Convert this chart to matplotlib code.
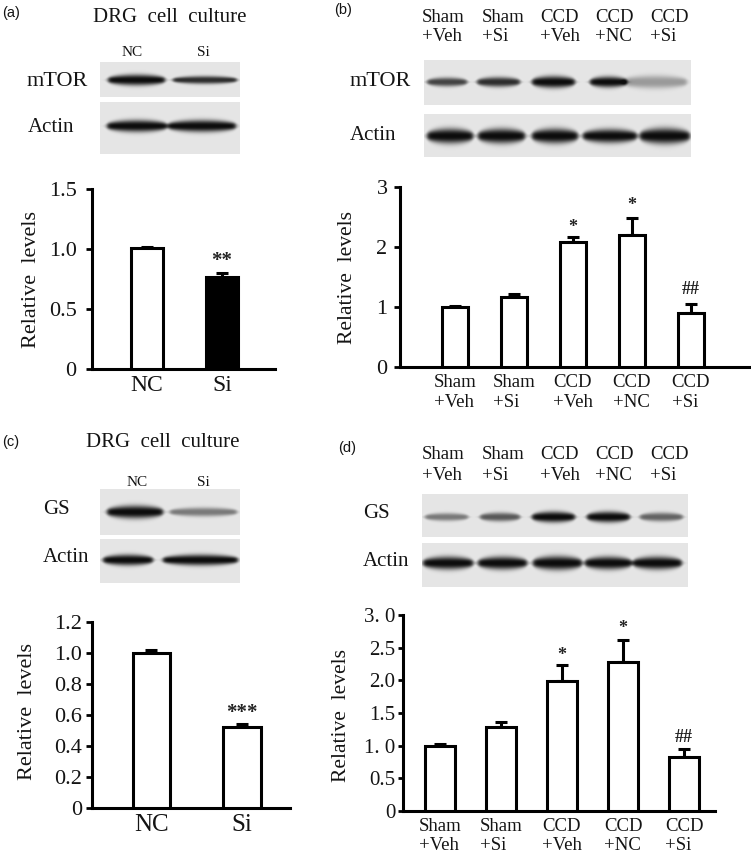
import numpy as np
import matplotlib
matplotlib.use('Agg')
import matplotlib.pyplot as plt

# ---------------- data ----------------
cats_ab = ['NC', 'Si']
a_vals = [1.01, 0.77]
a_errs = [0.01, 0.03]
a_sig = ['', '**']
a_sig_y = [None, 0.90]

c_vals = [1.00, 0.52]
c_errs = [0.02, 0.02]
c_sig = ['', '***']
c_sig_y = [None, 0.61]

groups = ['Sham\n+Veh', 'Sham\n+Si', 'CCD\n+Veh', 'CCD\n+NC', 'CCD\n+Si']
b_vals = [1.00, 1.17, 2.08, 2.20, 0.90]
b_errs = [0.02, 0.05, 0.09, 0.28, 0.15]
b_sig = ['', '', '*', '*', '##']
b_sig_y = [None, None, 2.33, 2.70, 1.30]

d_vals = [1.00, 1.29, 1.99, 2.28, 0.82]
d_errs = [0.02, 0.07, 0.25, 0.34, 0.13]
d_sig = ['', '', '*', '*', '##']
d_sig_y = [None, None, 2.38, 2.79, 1.13]

a_ticks = [0, 0.5, 1.0, 1.5]
a_ticklabels = ['0', '0.5', '1.0', '1.5']
b_ticks = [0, 1, 2, 3]
b_ticklabels = ['0', '1', '2', '3']
c_ticks = [0, 0.2, 0.4, 0.6, 0.8, 1.0, 1.2]
c_ticklabels = ['0', '0.2', '0.4', '0.6', '0.8', '1.0', '1.2']
d_ticks = [0, 0.5, 1.0, 1.5, 2.0, 2.5, 3.0]
d_ticklabels = ['0', '0.5', '1. 0', '1.5', '2.0', '2.5', '3. 0']

# western blot band intensities (relative darkness per lane)
a_mtor_band = [1.0, 0.85]
a_actin_band = [1.0, 1.0]
c_gs_band = [1.0, 0.5]
c_actin_band = [1.0, 1.0]
b_mtor_band = [0.75, 0.85, 1.0, 1.0, 0.35]
b_actin_band = [1.0, 1.0, 1.0, 1.0, 1.0]
d_gs_band = [0.5, 0.65, 1.0, 1.0, 0.6]
d_actin_band = [1.0, 1.0, 1.0, 1.0, 1.0]

# ---------------- figure ----------------
W, H = 751, 859
fig = plt.figure(figsize=(W / 100, H / 100), dpi=100)
SERIF = ['Liberation Serif', 'DejaVu Serif']
SANS = ['Liberation Sans', 'DejaVu Sans']
plt.rcParams['font.family'] = SERIF
TXT = '#141414'


def add_ax(x0, y0, x1, y1):
    return fig.add_axes([x0 / W, 1 - y1 / H, (x1 - x0) / W, (y1 - y0) / H])


def ftext(x, y, s, **kw):
    kw.setdefault('color', TXT)
    fig.text(x / W, 1 - y / H, s, **kw)


def draw_blot(box, lanes, intens, band_y, thick, bg=0.90):
    x0, y0, x1, y1 = box
    ax = add_ax(*box)
    nx, ny = int((x1 - x0) * 3), int((y1 - y0) * 3)
    xs = np.linspace(x0, x1, nx)
    ys = np.linspace(y0, y1, ny)
    X, Y = np.meshgrid(xs, ys)
    dark = np.zeros_like(X)
    for (l, r), v, t in zip(lanes, intens, thick):
        c = 0.5 * (l + r)
        hw = 0.5 * (r - l)
        hprof = 0.5 * (np.tanh((X - l) / 2.5) - np.tanh((X - r) / 2.5))
        taper = np.sqrt(np.clip(1 - ((X - c) / (hw * 1.15)) ** 2, 0.05, 1))
        sig = (t / 2.0) * taper
        vert = np.exp(-(np.abs(Y - band_y) / sig) ** 2.5)
        dark += v * hprof * vert
    dark = np.clip(dark, 0, 1)
    img = bg - dark * (bg - 0.05)
    ax.imshow(img, cmap='gray', vmin=0, vmax=1, aspect='auto',
              extent=[x0, x1, y1, y0], interpolation='bilinear')
    ax.set_xlim(x0, x1)
    ax.set_ylim(y1, y0)
    ax.axis('off')


def bar_panel(box, xlim, ymax, ticks, ticklabels, vals, errs, width, colors,
              xlabels, fs_tick, fs_x, ypad, xpad, sig, sig_y, fs_sig,
              linespacing=1.0, ticklen=4.0):
    ax = add_ax(*box)
    x = np.arange(len(vals))
    ax.bar(x, vals, width=width, color=colors, edgecolor='black',
           linewidth=2.2, zorder=3)
    ax.errorbar(x, vals, yerr=[np.zeros(len(vals)), errs], fmt='none',
                ecolor='black', elinewidth=2.2, capsize=4, capthick=2.2,
                zorder=2)
    ax.set_xlim(*xlim)
    ax.set_ylim(0, ymax)
    ax.set_yticks(ticks)
    ax.set_yticklabels(ticklabels)
    ax.set_xticks(x)
    ax.set_xticklabels(xlabels, linespacing=linespacing,
                       multialignment='left')
    for sp in ['top', 'right']:
        ax.spines[sp].set_visible(False)
    for sp in ['left', 'bottom']:
        ax.spines[sp].set_linewidth(2.2)
        ax.spines[sp].set_color('black')
    ax.tick_params(axis='y', direction='out', length=ticklen, width=2,
                   labelsize=fs_tick, pad=ypad, colors='black',
                   labelcolor=TXT)
    ax.tick_params(axis='x', length=0, labelsize=fs_x, pad=xpad,
                   labelcolor=TXT)
    ax.patch.set_alpha(0)
    for xi, s, sy in zip(x, sig, sig_y):
        if s:
            ax.text(xi, sy, s, ha='center', va='center', fontsize=fs_sig,
                    color='#222222', fontweight='bold', clip_on=False)
    return ax


# ---------------- panel (a) ----------------
ftext(2, 13, '(a)', family=SANS, fontsize=10.5, ha='left', va='center')
ftext(170, 17, 'DRG  cell  culture', fontsize=15, ha='center', va='center')
ftext(132, 52, 'NC', fontsize=11, ha='center', va='center')
ftext(203, 52, 'Si', fontsize=11, ha='center', va='center')
ftext(27, 82, 'mTOR', fontsize=16, ha='left', va='center')
ftext(28, 127, 'Actin', fontsize=15, ha='left', va='center')
draw_blot((100, 62, 240, 97), [(108, 165), (173, 237)], a_mtor_band, 80,
          [11, 8])
draw_blot((100, 102, 240, 154), [(107, 167), (168, 236)], a_actin_band, 126,
          [12, 12])
ftext(32, 279, 'Relative  levels', fontsize=16, rotation=90,
      ha='center', va='center')
bar_panel((92, 189, 275, 369), (-0.733, 1.707), 1.5, a_ticks, a_ticklabels,
          a_vals, a_errs, 0.433, ['white', 'black'], cats_ab, 16, 17, 7, 4,
          a_sig, a_sig_y, 15)

# ---------------- panel (c) ----------------
ftext(2, 442, '(c)', family=SANS, fontsize=10.5, ha='left', va='center')
ftext(163, 442, 'DRG  cell  culture', fontsize=15, ha='center', va='center')
ftext(137, 482, 'NC', fontsize=11, ha='center', va='center')
ftext(203, 482, 'Si', fontsize=11, ha='center', va='center')
ftext(43, 510, 'GS', fontsize=15, ha='left', va='center')
ftext(43, 558, 'Actin', fontsize=15, ha='left', va='center')
draw_blot((100, 489, 240, 535), [(107, 163), (170, 237)], c_gs_band, 512,
          [13, 9])
draw_blot((100, 539, 240, 583), [(103, 153), (163, 238)], c_actin_band, 560,
          [11, 11])
ftext(28, 712, 'Relative  levels', fontsize=16, rotation=90,
      ha='center', va='center')
bar_panel((92, 622, 290, 808), (-0.657, 1.531), 1.2, c_ticks, c_ticklabels,
          c_vals, c_errs, 0.414, ['white', 'white'], cats_ab, 16, 18, 3, 4,
          c_sig, c_sig_y, 15)

# ---------------- panel (b) ----------------
lane_left = [422, 482, 540, 595, 650]
ftext(343, 10, '(b)', family=SANS, fontsize=10.5, ha='center', va='center')
for xl, g in zip(lane_left, groups):
    ftext(xl, 27, g, fontsize=13.5, ha='left', va='center', linespacing=1.2)
ftext(350, 82, 'mTOR', fontsize=16, ha='left', va='center')
ftext(350, 135, 'Actin', fontsize=15, ha='left', va='center')
draw_blot((424, 60, 691, 105),
          [(427, 467), (477, 520), (532, 575), (590, 627), (623, 687)],
          b_mtor_band, 82, [9, 10, 12, 11, 13])
draw_blot((424, 114, 691, 157),
          [(427, 473), (478, 525), (532, 578), (583, 637), (640, 690)],
          b_actin_band, 136, [15, 15, 15, 14, 16])
ftext(348, 277, 'Relative  levels', fontsize=15.5, rotation=90,
      ha='center', va='center')
bar_panel((400, 187, 750, 367), (-0.932, 5.0), 3, b_ticks, b_ticklabels,
          b_vals, b_errs, 0.44, ['white'] * 5, groups, 16, 13.5, 5, 5,
          b_sig, b_sig_y, 13, linespacing=1.2)

# ---------------- panel (d) ----------------
ftext(347, 448, '(d)', family=SANS, fontsize=10.5, ha='center', va='center')
for xl, g in zip(lane_left, groups):
    ftext(xl, 465, g, fontsize=13.5, ha='left', va='center', linespacing=1.25)
ftext(363, 513, 'GS', fontsize=15, ha='left', va='center')
ftext(363, 562, 'Actin', fontsize=15, ha='left', va='center')
draw_blot((422, 494, 688, 537),
          [(425, 468), (480, 520), (532, 575), (587, 630), (640, 683)],
          d_gs_band, 517, [8, 9, 11, 11, 9])
draw_blot((422, 543, 688, 587),
          [(423, 473), (478, 527), (533, 582), (585, 632), (633, 682)],
          d_actin_band, 563, [13, 13, 14, 13, 13])
ftext(342, 715, 'Relative  levels', fontsize=15.5, rotation=90,
      ha='center', va='center')
bar_panel((403, 615, 715, 811), (-0.607, 4.508), 3.0, d_ticks, d_ticklabels,
          d_vals, d_errs, 0.49, ['white'] * 5, groups, 15, 13.5, 2, 5,
          d_sig, d_sig_y, 13, linespacing=1.12, ticklen=3.5)

fig.savefig('out.png', dpi=100, facecolor='white')
